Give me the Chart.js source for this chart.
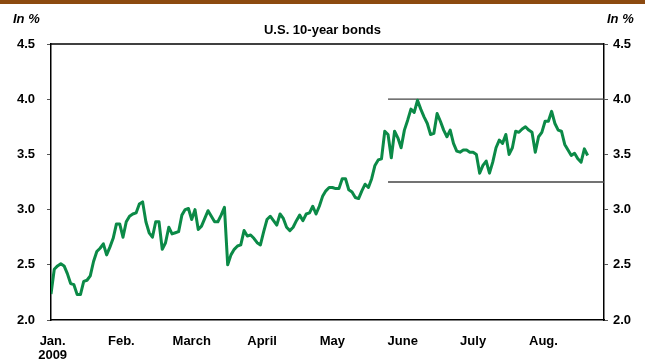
<!DOCTYPE html>
<html>
<head>
<meta charset="utf-8">
<script src="https://cdn.jsdelivr.net/npm/chart.js@4"></script>
<style>
  body { margin: 0; background: #fff; }
  #wrap { position: relative; width: 645px; height: 360px; }
  #topbar { position: absolute; left: 0; top: 0; width: 645px; height: 4px; background: #8c4a10; }
  .unit, #title {
    position: absolute;
    font-family: "Liberation Sans", Arial, sans-serif;
    font-weight: bold;
    font-size: 13px;
    color: #000;
    line-height: 13px;
  }
  .unit { font-style: italic; top: 12px; }
  #unitLeft { left: 13px; }
  #unitRight { left: 607px; }
  #title { top: 23px; left: 0; width: 645px; text-align: center; }
  canvas { position: absolute; left: 0; top: 0; }
</style>
</head>
<body>
<div id="wrap">
  <canvas id="bondChart" width="645" height="360"></canvas>
  <div id="topbar"></div>
  <div class="unit" id="unitLeft">In %</div>
  <div class="unit" id="unitRight">In %</div>
  <div id="title">U.S. 10-year bonds</div>
</div>

<script>
// daily 10-year yield, Jan. to Aug. 2009 (in %)
const yields = [
  2.235, 2.46, 2.49, 2.51, 2.49, 2.42, 2.33, 2.32, 2.23, 2.23,
  2.35, 2.36, 2.40, 2.53, 2.62, 2.65, 2.69, 2.59, 2.66, 2.74,
  2.87, 2.87, 2.75, 2.89, 2.94, 2.96, 2.97, 3.05, 3.07, 2.89,
  2.79, 2.75, 2.89, 2.89, 2.64, 2.70, 2.84, 2.78, 2.79, 2.80,
  2.95, 3.00, 3.01, 2.91, 3.00, 2.82, 2.85, 2.92, 2.99, 2.94,
  2.89, 2.89, 2.95, 3.02, 2.50, 2.59, 2.64, 2.67, 2.68, 2.81,
  2.76, 2.77, 2.74, 2.70, 2.68, 2.80, 2.91, 2.94, 2.90, 2.86,
  2.96, 2.92, 2.84, 2.81, 2.84, 2.90, 2.95, 2.90, 2.96, 2.97,
  3.03, 2.96, 3.03, 3.12, 3.17, 3.20, 3.20, 3.19, 3.19, 3.28,
  3.28, 3.18, 3.16, 3.11, 3.10, 3.17, 3.23, 3.20, 3.28, 3.40,
  3.45, 3.46, 3.71, 3.68, 3.47, 3.71, 3.65, 3.56, 3.72, 3.81,
  3.91, 3.88, 3.99, 3.91, 3.84, 3.78, 3.68, 3.69, 3.87, 3.80,
  3.72, 3.66, 3.72, 3.60, 3.53, 3.52, 3.54, 3.54, 3.52, 3.52,
  3.50, 3.33, 3.40, 3.44, 3.33, 3.43, 3.56, 3.63, 3.60, 3.68,
  3.50, 3.56, 3.71, 3.70, 3.73, 3.75, 3.72, 3.70, 3.52, 3.66,
  3.70, 3.80, 3.80, 3.89, 3.78, 3.72, 3.71, 3.59, 3.54, 3.49,
  3.51, 3.46, 3.43, 3.55, 3.49
];

// month labels and the day slots they sit on
const monthLabels = [["Jan.", "2009"], "Feb.", "March", "April", "May", "June", "July", "Aug."];
const monthPos = [0.5, 21.5, 43, 64.5, 86, 107.5, 129, 150.5];
const lastSlot = 169;

// trading range since June
const rangeStart = 103;
const rangeHigh = 4.0;
const rangeLow = 3.25;

const yTicks = [2.0, 2.5, 3.0, 3.5, 4.0, 4.5];

const tickFont = { family: "'Liberation Sans', Arial, sans-serif", size: 13, weight: "bold" };

const series = yields.map((v, i) => ({ x: i, y: v }));
const rangeLine = (v) => [{ x: rangeStart, y: v }, { x: lastSlot, y: v }];

// top edge of the frame
const frameTop = {
  id: "frameTop",
  afterDraw(chart) {
    const { ctx, chartArea } = chart;
    ctx.save();
    ctx.strokeStyle = "#000";
    ctx.lineWidth = 1.5;
    ctx.beginPath();
    ctx.moveTo(chartArea.left, chartArea.top);
    ctx.lineTo(chartArea.right, chartArea.top);
    ctx.stroke();
    ctx.restore();
  },
};

function yAxis(position, pad, width) {
  return {
    type: "linear",
    position,
    min: yTicks[0],
    max: yTicks[yTicks.length - 1],
    afterBuildTicks: (s) => { s.ticks = yTicks.map((v) => ({ value: v })); },
    afterFit: (s) => { s.width = width; },
    ticks: {
      color: "#000",
      font: tickFont,
      padding: pad,
      callback: (v) => Number(v).toFixed(1),
    },
    grid: { drawOnChartArea: false, drawTicks: true, tickLength: 4, color: "#555" },
    border: { display: true, color: "#000", width: 1.5 },
  };
}

new Chart(document.getElementById("bondChart"), {
  type: "line",
  data: {
    datasets: [
      {
        data: series,
        borderColor: "#0b8a47",
        borderWidth: 3,
        pointRadius: 0,
        tension: 0,
        borderJoinStyle: "round",
        yAxisID: "y",
        order: 0,
      },
      {
        data: rangeLine(rangeHigh),
        borderColor: "#444",
        borderWidth: 1.3,
        pointRadius: 0,
        yAxisID: "y",
        order: 1,
      },
      {
        data: rangeLine(rangeLow),
        borderColor: "#444",
        borderWidth: 1.3,
        pointRadius: 0,
        yAxisID: "y",
        order: 1,
      },
    ],
  },
  options: {
    responsive: false,
    animation: false,
    devicePixelRatio: 1,
    layout: { padding: { top: 44, left: 0, right: 0, bottom: 0 } },
    plugins: {
      legend: { display: false },
      tooltip: { enabled: false },
    },
    scales: {
      x: {
        type: "linear",
        min: 0,
        max: lastSlot,
        afterBuildTicks: (s) => { s.ticks = monthPos.map((v) => ({ value: v })); },
        afterFit: (s) => { s.height = 40; },
        ticks: {
          color: "#000",
          font: { ...tickFont, lineHeight: 1.1 },
          padding: 6,
          autoSkip: false,
          maxRotation: 0,
          callback: (v, i) => monthLabels[i],
        },
        grid: { display: false },
        border: { display: true, color: "#000", width: 1.5 },
      },
      y: yAxis("left", 12, 51),
      y2: yAxis("right", 5, 41),
    },
  },
  plugins: [frameTop],
});
</script>
</body>
</html>
